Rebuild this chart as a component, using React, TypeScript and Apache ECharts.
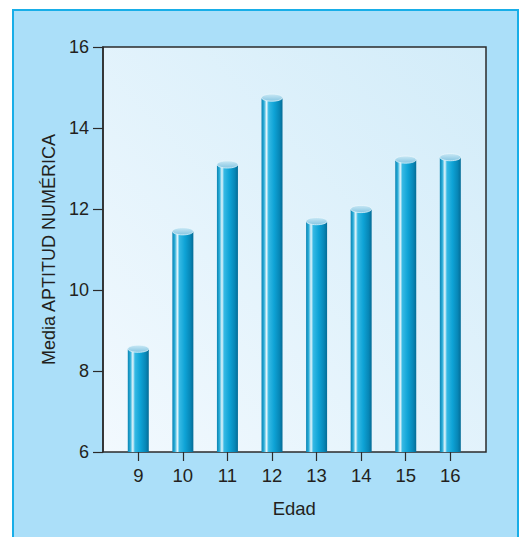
import React, { useEffect, useRef } from "react";
import * as echarts from "echarts";

const categories = ["9", "10", "11", "12", "13", "14", "15", "16"];
const values = [8.55, 11.45, 13.1, 14.75, 11.7, 12.0, 13.22, 13.28];
const yMin = 6;
const yMax = 16;
const yInterval = 2;
const yName = "Media APTITUD NUMÉRICA";
const xName = "Edad";

const FONT = "'Liberation Sans', Arial, Helvetica, sans-serif";
const TEXT = "#231f20";

export default function App() {
  const ref = useRef<HTMLDivElement>(null);
  useEffect(() => {
    if (!ref.current) return;
    const chart = echarts.init(ref.current, null, { renderer: "svg" });
    const barW = 21;
    const sideGrad = new echarts.graphic.LinearGradient(0, 0, 1, 0, [
      { offset: 0, color: "#0a83b2" },
      { offset: 0.12, color: "#2aaed9" },
      { offset: 0.24, color: "#e6f6fc" },
      { offset: 0.34, color: "#35b9e4" },
      { offset: 0.6, color: "#0ea3d6" },
      { offset: 0.85, color: "#0787b7" },
      { offset: 1, color: "#056c96" },
    ]);
    const capGrad = new echarts.graphic.LinearGradient(0, 0, 0, 1, [
      { offset: 0, color: "#c9e8f5" },
      { offset: 1, color: "#86c6e2" },
    ]);
    const option: any = {
      animation: false,
      textStyle: { fontFamily: FONT },
      grid: [
        {
          left: 103,
          top: 47,
          width: 383,
          height: 405,
          show: true,
          borderColor: "#2b2b2b",
          borderWidth: 1.5,
          backgroundColor: new echarts.graphic.LinearGradient(0, 1, 1, 0, [
            { offset: 0, color: "#f2f9fe" },
            { offset: 1, color: "#d2ecf9" },
          ]),
        },
        { left: 116, top: 47, width: 356.6, height: 405 },
      ],
      xAxis: [
        { type: "value", gridIndex: 0, min: 0, max: 1, show: false },
        {
          type: "category",
          gridIndex: 1,
          data: categories,
          boundaryGap: true,
          axisLine: { show: false },
          axisTick: {
            show: true,
            alignWithLabel: true,
            length: 9,
            lineStyle: { color: "#2b2b2b", width: 1.2 },
          },
          axisLabel: { fontSize: 18.5, color: TEXT, margin: 14, fontFamily: FONT },
          name: xName,
          nameLocation: "middle",
          nameGap: 47,
          nameTextStyle: { fontSize: 18.5, color: TEXT, fontFamily: FONT },
          splitLine: { show: false },
        },
      ],
      yAxis: [
        {
          type: "value",
          gridIndex: 0,
          min: yMin,
          max: yMax,
          interval: yInterval,
          axisLine: { show: true, lineStyle: { color: "#2b2b2b", width: 1.5 } },
          axisTick: {
            show: true,
            length: 10,
            lineStyle: { color: "#2b2b2b", width: 1.2 },
          },
          axisLabel: { fontSize: 18, color: TEXT, margin: 14, fontFamily: FONT },
          splitLine: { show: false },
          name: yName,
          nameLocation: "middle",
          nameGap: 44,
          nameTextStyle: { fontSize: 18, color: TEXT, fontFamily: FONT },
        },
        {
          type: "value",
          gridIndex: 1,
          min: yMin,
          max: yMax,
          interval: yInterval,
          show: false,
        },
      ],
      series: [
        {
          type: "custom",
          xAxisIndex: 1,
          yAxisIndex: 1,
          clip: false,
          data: values.map((v, i) => [i, v]),
          renderItem: (params: any, api: any) => {
            const top = api.coord([api.value(0), api.value(1)]);
            const base = api.coord([api.value(0), yMin]);
            const cx = top[0];
            const ry = 3.6;
            return {
              type: "group",
              children: [
                {
                  type: "rect",
                  shape: {
                    x: cx - barW / 2,
                    y: top[1],
                    width: barW,
                    height: base[1] - top[1],
                  },
                  style: { fill: sideGrad },
                },
                {
                  type: "ellipse",
                  shape: { cx: cx, cy: top[1], rx: barW / 2, ry: ry },
                  style: {
                    fill: capGrad,
                    stroke: "rgba(235,248,253,0.9)",
                    lineWidth: 0.8,
                  },
                },
              ],
            };
          },
        },
      ],
    };
    chart.setOption(option);
    return () => chart.dispose();
  }, []);
  return (
    <div
      style={{
        position: "fixed",
        left: 0,
        top: 0,
        width: 526,
        height: 537,
        background: "#ffffff",
        overflow: "hidden",
      }}
    >
      <div
        style={{
          position: "absolute",
          left: 12,
          top: 9,
          width: 503,
          height: 540,
          background: "#abdff9",
          border: "2px solid #18aee8",
          borderBottom: "none",
        }}
      />
      <div
        ref={ref}
        style={{ position: "absolute", left: 0, top: 0, width: 526, height: 537 }}
      />
    </div>
  );
}
